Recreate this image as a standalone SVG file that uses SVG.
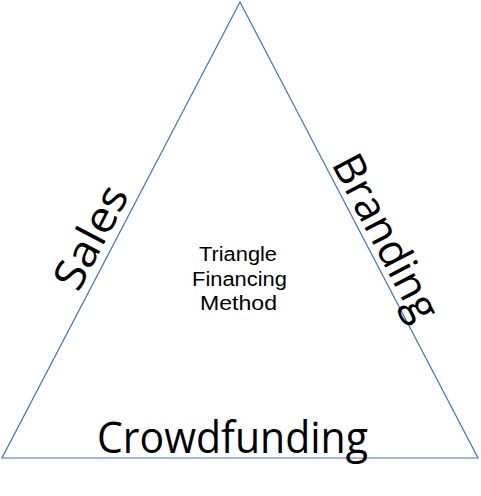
<svg xmlns="http://www.w3.org/2000/svg" width="481" height="496" viewBox="0 0 481 496">
<style>
.edge{fill:none;stroke:#4472C4;stroke-width:1.2}
.big{font-family:"Open Sans","Noto Sans",sans-serif;font-size:43px;fill:#000;text-anchor:middle}
.small{font-family:"Liberation Sans",Arial,sans-serif;font-size:19.5px;fill:#000;text-anchor:middle}
</style>
<rect width="481" height="496" fill="#fff"/>
<g id="triangle">
<polygon class="edge" points="240,2 2,458 478,458"/>
</g>
<g id="connectors"></g>
<g id="sales">
<text class="big" transform="translate(104,244) rotate(-62.4)" textLength="111" lengthAdjust="spacingAndGlyphs">Sales</text>
</g>
<g id="branding">
<text class="big" transform="translate(373,244) rotate(62.4)" textLength="181" lengthAdjust="spacingAndGlyphs">Branding</text>
</g>
<g id="crowdfunding">
<text class="big" x="232.5" y="453" textLength="271" lengthAdjust="spacingAndGlyphs">Crowdfunding</text>
</g>
<g id="center">
<text class="small" x="238" y="261" textLength="78" lengthAdjust="spacingAndGlyphs">Triangle</text>
<text class="small" x="239.5" y="285.5" textLength="95" lengthAdjust="spacingAndGlyphs">Financing</text>
<text class="small" x="238.5" y="310" textLength="77" lengthAdjust="spacingAndGlyphs">Method</text>
</g>
</svg>
